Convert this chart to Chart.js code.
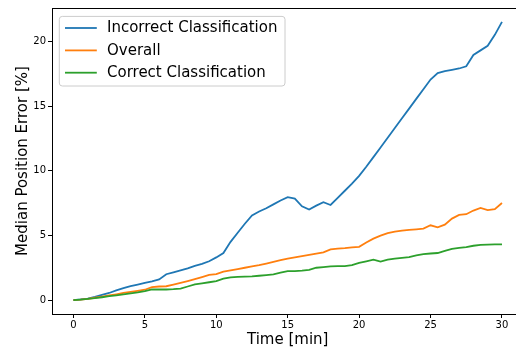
<!DOCTYPE html>
<html><head><meta charset="utf-8">
<script src="https://cdn.jsdelivr.net/npm/chart.js@4/dist/chart.umd.min.js"></script>
<style>html,body{margin:0;padding:0;overflow:hidden;background:#fff}
#wrap{width:540px;height:351px;position:relative}</style>
</head><body><div id="wrap"><canvas id="c" width="540" height="351"></canvas></div>
<script>
const seriesNames = ['Incorrect Classification', 'Overall', 'Correct Classification'];
const seriesColors = ['#1f77b4', '#ff7f0e', '#2ca02c'];
const times = [0,0.5,1,1.5,2,2.5,3,3.5,4,4.5,5,5.5,6,6.5,7,7.5,8,8.5,9,9.5,10,10.5,11,11.5,12,12.5,13,13.5,14,14.5,15,15.5,16,16.5,17,17.5,18,18.5,19,19.5,20,20.5,21,21.5,22,22.5,23,23.5,24,24.5,25,25.5,26,26.5,27,27.5,28,28.5,29,29.5,30];
const incorrect = [0,0.05,0.12,0.25,0.4,0.55,0.75,0.92,1.08,1.2,1.33,1.45,1.6,2.0,2.15,2.3,2.45,2.65,2.8,3.0,3.3,3.64,4.5,5.2,5.9,6.55,6.85,7.1,7.4,7.7,7.96,7.84,7.25,7.0,7.3,7.56,7.35,7.9,8.45,9.0,9.6,10.3,11.05,11.8,12.55,13.3,14.05,14.8,15.55,16.3,17.05,17.55,17.7,17.8,17.9,18.07,18.95,19.3,19.65,20.5,21.5];
const overall = [0,0.04,0.1,0.18,0.27,0.36,0.45,0.55,0.63,0.72,0.8,1.0,1.05,1.07,1.2,1.33,1.47,1.62,1.78,1.95,2.0,2.2,2.3,2.4,2.5,2.6,2.7,2.82,2.95,3.08,3.2,3.3,3.4,3.5,3.6,3.69,3.92,3.98,4.02,4.08,4.12,4.45,4.75,4.98,5.18,5.3,5.37,5.43,5.47,5.52,5.78,5.62,5.83,6.3,6.58,6.64,6.92,7.12,6.95,7.02,7.5];
const correct = [0,0.04,0.09,0.15,0.22,0.3,0.37,0.44,0.52,0.6,0.7,0.82,0.82,0.82,0.84,0.88,1.05,1.22,1.3,1.38,1.47,1.65,1.76,1.8,1.82,1.83,1.88,1.93,1.98,2.12,2.24,2.24,2.27,2.34,2.5,2.55,2.6,2.62,2.62,2.7,2.88,3.0,3.13,2.98,3.12,3.2,3.27,3.32,3.45,3.56,3.6,3.64,3.8,3.95,4.03,4.1,4.2,4.27,4.29,4.3,4.3];
const xTicks = [0,5,10,15,20,25,30];
const yTicks = [0,5,10,15,20];
const xLabel = 'Time [min]';
const yLabel = 'Median Position Error [%]';

const allSeries = [incorrect, overall, correct];
const datasets = allSeries.map((vals, k) => ({
  label: seriesNames[k],
  data: vals.map((v, i) => ({x: times[i], y: v})),
  borderColor: seriesColors[k],
  backgroundColor: seriesColors[k],
  order: 2 - k
}));

const FONT = 'DejaVu Sans';

const framePlugin = {
  id: 'frame',
  afterDatasetsDraw(chart) {
    const {ctx, chartArea: a} = chart;
    ctx.save();
    ctx.strokeStyle = '#000';
    ctx.lineWidth = 1;
    ctx.beginPath();
    ctx.moveTo(a.left, a.top + 0.5);
    ctx.lineTo(a.right, a.top + 0.5);
    ctx.moveTo(a.right - 0.5, a.top);
    ctx.lineTo(a.right - 0.5, a.bottom);
    ctx.stroke();
    ctx.restore();
  },
  afterDraw(chart) {
    const {ctx, chartArea: a} = chart;
    const bx = a.left + 7.3, by = a.top + 8.4, bw = 225.7, bh = 69.6;
    ctx.save();
    ctx.beginPath();
    ctx.roundRect(bx, by, bw, bh, 3);
    ctx.fillStyle = 'rgba(255,255,255,0.8)';
    ctx.fill();
    ctx.strokeStyle = '#cccccc';
    ctx.lineWidth = 1;
    ctx.stroke();
    const rows = [11.6, 34, 56.3];
    ctx.font = '15px "' + FONT + '"';
    ctx.textBaseline = 'middle';
    ctx.textAlign = 'left';
    chart.data.datasets.forEach((ds, i) => {
      const cy = by + rows[i];
      ctx.strokeStyle = ds.borderColor;
      ctx.lineWidth = 1.8;
      ctx.beginPath();
      ctx.moveTo(bx + 5.7, cy);
      ctx.lineTo(bx + 37.5, cy);
      ctx.stroke();
      ctx.fillStyle = '#000';
      ctx.fillText(ds.label, bx + 47.7, cy + 0.5);
    });
    ctx.restore();
  }
};

new Chart(document.getElementById('c'), {
  type: 'line',
  data: {datasets},
  plugins: [framePlugin],
  options: {
    responsive: false,
    animation: false,
    devicePixelRatio: 1,
    layout: {padding: {left: 0, right: 16.6, top: 4.3, bottom: 0}},
    plugins: {legend: {display: false}, tooltip: {enabled: false}},
    elements: {point: {radius: 0}, line: {borderWidth: 1.8, tension: 0}},
    scales: {
      x: {
        type: 'linear', min: -1.5, max: 31.5,
        afterBuildTicks: s => { s.ticks = xTicks.map(v => ({value: v})); },
        afterFit: s => { s.height = 37; },
        grid: {drawOnChartArea: false, drawTicks: true, tickLength: 4, color: '#000', tickWidth: 1},
        border: {display: true, color: '#000', width: 1},
        ticks: {font: {family: FONT, size: 10}, color: '#000', padding: 1, maxRotation: 0, autoSkip: false},
        title: {display: true, text: xLabel, font: {family: FONT, size: 15}, color: '#000', padding: {top: 0, bottom: 2}}
      },
      y: {
        type: 'linear', min: -1.075, max: 22.575,
        afterBuildTicks: s => { s.ticks = yTicks.map(v => ({value: v})); },
        afterFit: s => { s.width = 52; },
        grid: {drawOnChartArea: false, drawTicks: true, tickLength: 4, color: '#000', tickWidth: 1},
        border: {display: true, color: '#000', width: 1},
        ticks: {font: {family: FONT, size: 10}, color: '#000', padding: 2, autoSkip: false},
        title: {display: true, text: yLabel, font: {family: FONT, size: 15}, color: '#000', padding: {top: 13.7, bottom: 0}}
      }
    }
  }
});
</script>
</body></html>
